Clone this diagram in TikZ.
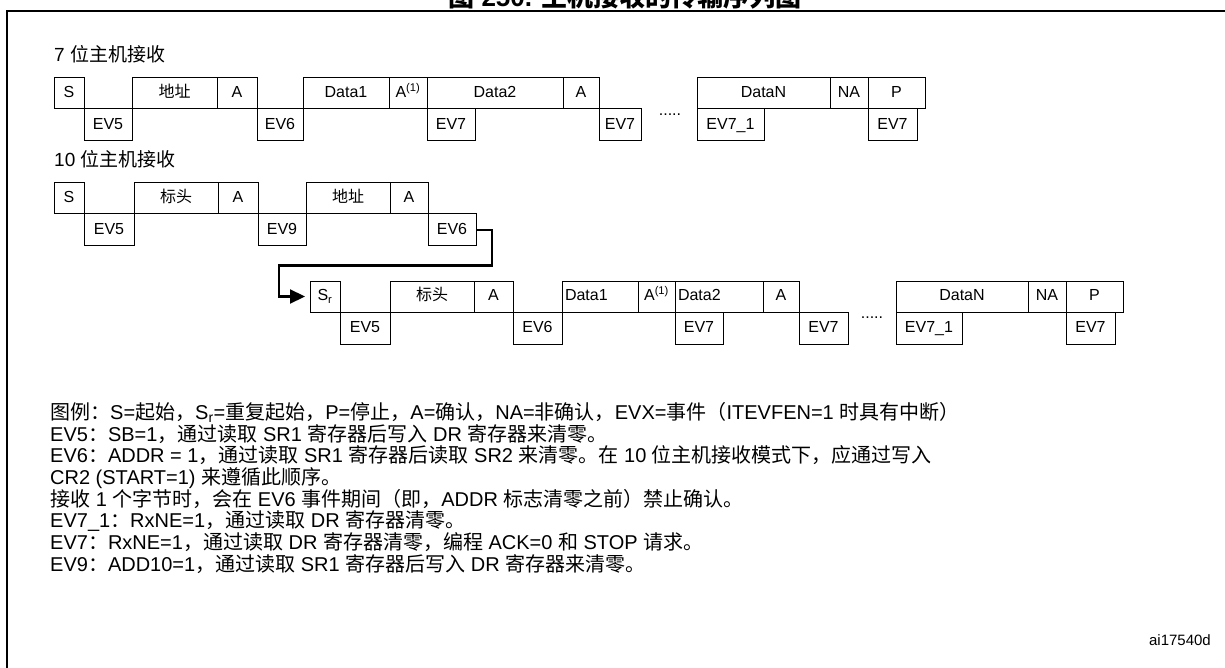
\documentclass[tikz,border=0pt]{standalone}
\usepackage{fontspec}
\setmainfont{Liberation Sans}
\newfontfamily\zhfont{Noto Sans CJK SC}
\newcommand{\zh}[1]{{\zhfont #1}}
\usetikzlibrary{arrows.meta, positioning}

\begin{document}
\begin{tikzpicture}[
  x=1pt, y=-1pt,
  cell/.style={draw, line width=1pt, inner sep=0pt, outer sep=0pt,
               font=\fontsize{16}{18}\selectfont,
               text height=11.5pt, text depth=3pt},
  hi/.style={cell, minimum height=31pt},
  lo/.style={cell, minimum height=32pt},
  hileft/.style={hi, inner xsep=3pt, align=left},
  rowlabel/.style={anchor=west, inner sep=0pt, font=\fontsize{19}{22}\selectfont},
  gap/.style={anchor=base, inner sep=0pt, font=\fontsize{16}{18}\selectfont},
  notes/.style={anchor=north west, inner sep=0pt, align=left,
                font=\fontsize{20}{21.7}\selectfont},
  conn/.style={-{Triangle[length=15pt, width=14pt]}, line width=2.2pt,
               shorten >=5pt},
  frame/.style={line width=2.2pt}
]
\useasboundingbox (0,0) rectangle (1225,668);

\begin{scope}
  \clip (0,0) rectangle (1225,668);
  \node[anchor=base, inner sep=0pt, font=\bfseries\fontsize{26}{28}\selectfont]
    (title) at (625,7) {\zh{图} 250. \zh{主机接收的传输序列图}};
\end{scope}
\draw[frame] (7,668) -- (7,11) -- (1225,11);

% 7-bit
\node[rowlabel] (lbl7) at (54,54) {7 \zh{位主机接收}};
\node[hi, anchor=north west, minimum width=30pt] (s1) at (54,78) {S};
\node[lo, minimum width=48pt, below right=0pt of s1.south east] (ev5a) {EV5};
\node[hi, minimum width=85pt, above right=0pt of ev5a.north east] (addr1) {\zh{地址}};
\node[hi, minimum width=40pt, right=0pt of addr1] (ack1) {A};
\node[lo, minimum width=46pt, below right=0pt of ack1.south east] (ev6a) {EV6};
\node[hi, minimum width=86pt, above right=0pt of ev6a.north east] (data1a) {Data1};
\node[hi, minimum width=38pt, right=0pt of data1a] (ack2) {A\textsuperscript{(1)}};
\node[hi, minimum width=136pt, right=0pt of ack2] (data2a) {Data2};
\node[lo, minimum width=48pt, below right=0pt of data2a.south west] (ev7a) {EV7};
\node[hi, minimum width=36pt, right=0pt of data2a] (ack3) {A};
\node[lo, minimum width=42pt, below right=0pt of ack3.south east] (ev7b) {EV7};
\node[gap] (dots1) at (670,116) {.....};
\node[hi, anchor=north west, minimum width=133pt] (datana) at (697,78) {DataN};
\node[lo, minimum width=67pt, below right=0pt of datana.south west] (ev71a) {EV7\_1};
\node[hi, minimum width=38pt, right=0pt of datana] (nack1) {NA};
\node[hi, minimum width=57pt, right=0pt of nack1] (stop1) {P};
\node[lo, minimum width=49pt, below right=0pt of stop1.south west] (ev7c) {EV7};

% 10-bit
\node[rowlabel] (lbl10) at (54,159) {10 \zh{位主机接收}};
\node[hi, anchor=north west, minimum width=30pt] (s2) at (54,183) {S};
\node[lo, minimum width=50pt, below right=0pt of s2.south east] (ev5b) {EV5};
\node[hi, minimum width=84pt, above right=0pt of ev5b.north east] (hdr1) {\zh{标头}};
\node[hi, minimum width=40pt, right=0pt of hdr1] (ack4) {A};
\node[lo, minimum width=48pt, below right=0pt of ack4.south east] (ev9) {EV9};
\node[hi, minimum width=84pt, above right=0pt of ev9.north east] (addr2) {\zh{地址}};
\node[hi, minimum width=38pt, right=0pt of addr2] (ack5) {A};
\node[lo, minimum width=48pt, below right=0pt of ack5.south east] (ev6b) {EV6};

\node[hi, anchor=north west, minimum width=30pt] (sr) at (310,281) {S\textsubscript{r}};
\node[lo, minimum width=50pt, below right=0pt of sr.south east] (ev5c) {EV5};
\node[hi, minimum width=84pt, above right=0pt of ev5c.north east] (hdr2) {\zh{标头}};
\node[hi, minimum width=39pt, right=0pt of hdr2] (ack6) {A};
\node[lo, minimum width=49pt, below right=0pt of ack6.south east] (ev6c) {EV6};
\node[hileft, text width=70pt, minimum width=76pt,
      above right=0pt of ev6c.north east] (data1b) {Data1};
\node[hi, minimum width=37pt, right=0pt of data1b] (ack7) {A\textsuperscript{(1)}};
\node[hileft, text width=82pt, minimum width=88pt, right=0pt of ack7] (data2b) {Data2};
\node[lo, minimum width=48pt, below right=0pt of data2b.south west] (ev7d) {EV7};
\node[hi, minimum width=36pt, right=0pt of data2b] (ack8) {A};
\node[lo, minimum width=49pt, below right=0pt of ack8.south east] (ev7e) {EV7};
\node[gap] (dots2) at (872,318) {.....};
\node[hi, anchor=north west, minimum width=132pt] (datanb) at (896,281) {DataN};
\node[lo, minimum width=66pt, below right=0pt of datanb.south west] (ev71b) {EV7\_1};
\node[hi, minimum width=38pt, right=0pt of datanb] (nack2) {NA};
\node[hi, minimum width=57pt, right=0pt of nack2] (stop2) {P};
\node[lo, minimum width=49pt, below right=0pt of stop2.south west] (ev7f) {EV7};

\draw[conn] (ev6b.east) -- ++(16,0) -- ++(0,35.5) -| ([xshift=-31pt]sr.west) -- (sr.west);

\node[notes] (legend) at (50,402) {%
  \zh{图例：}S=\zh{起始，}S\textsubscript{r}=\zh{重复起始，}P=\zh{停止，}A=\zh{确认，}NA=\zh{非确认，}EVX=\zh{事件（}ITEVFEN=1 \zh{时具有中断）}\\
  EV5\zh{：}SB=1\zh{，通过读取} SR1 \zh{寄存器后写入} DR \zh{寄存器来清零。}\\
  EV6\zh{：}ADDR = 1\zh{，通过读取} SR1 \zh{寄存器后读取} SR2 \zh{来清零。在} 10 \zh{位主机接收模式下，应通过写入}\\
  CR2 (START=1) \zh{来遵循此顺序。}\\
  \zh{接收} 1 \zh{个字节时，会在} EV6 \zh{事件期间（即，}ADDR \zh{标志清零之前）禁止确认。}\\
  EV7\_1\zh{：}RxNE=1\zh{，通过读取} DR \zh{寄存器清零。}\\
  EV7\zh{：}RxNE=1\zh{，通过读取} DR \zh{寄存器清零，编程} ACK=0 \zh{和} STOP \zh{请求。}\\
  EV9\zh{：}ADD10=1\zh{，通过读取} SR1 \zh{寄存器后写入} DR \zh{寄存器来清零。}};

\node[anchor=east, inner sep=0pt, font=\fontsize{15}{17}\selectfont] (figid) at (1211,640) {ai17540d};

\end{tikzpicture}
\end{document}
